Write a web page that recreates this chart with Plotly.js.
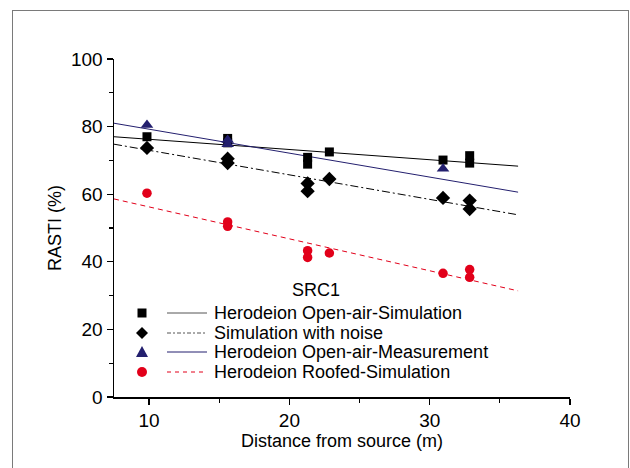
<!DOCTYPE html>
<html>
<head>
<meta charset="utf-8">
<script src="https://cdn.plot.ly/plotly-3.0.1.min.js"></script>
<style>
  html, body { margin: 0; padding: 0; background: #fff; }
  #wrap { position: relative; width: 630px; height: 468px; overflow: hidden; }
  #chart { position: absolute; left: 0; top: 0; width: 630px; height: 468px; }
  #frame { position: absolute; left: 12px; top: 10px; width: 615px; height: 480px;
           border: 1.5px solid #7a7a7a; pointer-events: none; }
</style>
</head>
<body>
<div id="wrap">
  <div id="chart"></div>
  <div id="frame"></div>
</div>
<script>
// ---- data ----
const xSim   = [9.85, 15.6, 15.6, 21.3, 21.3, 22.85, 30.95, 32.85, 32.85];
const ySim   = [77.0, 76.5, 75.2, 70.9, 68.9, 72.5, 70.1, 71.4, 69.2];
const xNoise = [9.85, 15.6, 15.6, 21.3, 21.3, 22.85, 30.95, 32.85, 32.85];
const yNoise = [73.7, 70.5, 69.2, 63.2, 60.9, 64.5, 58.9, 58.1, 55.6];
const xMeas  = [9.85, 15.6, 15.6, 30.95];
const yMeas  = [80.5, 76.0, 74.8, 67.5];
const xRoof  = [9.85, 15.6, 15.6, 21.3, 21.3, 22.85, 30.95, 32.85, 32.85];
const yRoof  = [60.3, 51.8, 50.5, 43.3, 41.3, 42.6, 36.6, 37.7, 35.4];

// fitted (regression) lines, read at their two ends
const fitX     = [7.5, 36.3];
const fitSim   = [77.0, 68.3];
const fitNoise = [74.8, 53.9];
const fitMeas  = [81.0, 60.6];
const fitRoof  = [58.6, 31.4];

const seriesNames = ["Herodeion Open-air-Simulation", "Simulation with noise",
                     "Herodeion Open-air-Measurement", "Herodeion Roofed-Simulation"];
const legendTitle = "SRC1";
const xTitle = "Distance from source (m)";
const yTitle = "RASTI (%)";

// ---- styles ----
const NAVY = "#231f6e";
const RED = "#e2001a";
const FONT = "Liberation Sans, Arial, sans-serif";

const traces = [
  {x: fitX, y: fitSim, mode: "lines", line: {color: "#000", width: 1}},
  {x: fitX, y: fitNoise, mode: "lines", line: {color: "#000", width: 1, dash: "8px,3px,2px,3px"}},
  {x: fitX, y: fitMeas, mode: "lines", line: {color: NAVY, width: 1}},
  {x: fitX, y: fitRoof, mode: "lines", line: {color: RED, width: 1, dash: "5px,4px"}},
  {x: xSim, y: ySim, mode: "markers", marker: {symbol: "square", size: 9, color: "#000"}},
  {x: xNoise, y: yNoise, mode: "markers", marker: {symbol: "diamond", size: 11, color: "#000"}},
  {x: xMeas, y: yMeas, mode: "markers", marker: {symbol: "triangle-up", size: 11, color: NAVY}},
  {x: xRoof, y: yRoof, mode: "markers", marker: {symbol: "circle", size: 9.5, color: RED}}
];

// ---- legend built from layout shapes/annotations ----
const M = {l: 114, r: 60, t: 59, b: 71};
const W = 630, H = 468;
const pw = W - M.l - M.r, ph = H - M.t - M.b;
const px = v => (v - M.l) / pw;
const py = v => (H - M.b - v) / ph;

const rowY = [313, 333, 352, 372];
const mkX = 142, lnX0 = 167, lnX1 = 207, txX = 212;
const lineStyles = [
  {color: "#555", width: 1},
  {color: "#555", width: 1, dash: "4px,2px,2px,2px"},
  {color: NAVY, width: 1},
  {color: RED, width: 1, dash: "4px,4px"}
];
const shapes = [];
const annotations = [];
rowY.forEach((ry, i) => {
  shapes.push({type: "line", xref: "paper", yref: "paper",
               x0: px(lnX0), x1: px(lnX1), y0: py(ry), y1: py(ry), line: lineStyles[i]});
  annotations.push({xref: "paper", yref: "paper", x: px(txX), y: py(ry), xanchor: "left",
                    yanchor: "middle", showarrow: false, text: seriesNames[i],
                    font: {family: FONT, size: 18, color: "#000"}});
});
const pixShape = (type, yi, extra) => Object.assign({
  type: type, xref: "paper", yref: "paper", xsizemode: "pixel", ysizemode: "pixel",
  xanchor: px(mkX), yanchor: py(rowY[yi]), line: {width: 0}
}, extra);
shapes.push(pixShape("rect", 0, {x0: -4.5, x1: 4.5, y0: -4.5, y1: 4.5, fillcolor: "#000"}));
shapes.push(pixShape("path", 1, {path: "M0,6L6,0L0,-6L-6,0Z", fillcolor: "#000"}));
shapes.push(pixShape("path", 2, {path: "M-6,-5L6,-5L0,6Z", fillcolor: NAVY}));
shapes.push(pixShape("circle", 3, {x0: -5, x1: 5, y0: -5, y1: 5, fillcolor: RED}));
annotations.push({xref: "paper", yref: "paper", x: px(316), y: py(290), xanchor: "center",
                  yanchor: "middle", showarrow: false, text: legendTitle,
                  font: {family: FONT, size: 18, color: "#000"}});

const axisCommon = {
  showline: true, linecolor: "#000", linewidth: 1.5, mirror: false,
  ticks: "outside", ticklen: 6, tickwidth: 1.2, tickcolor: "#000",
  showgrid: false, zeroline: false, tickfont: {family: FONT, size: 19, color: "#000"}
};

const layout = {
  width: W, height: H, margin: M, showlegend: false,
  paper_bgcolor: "#fff", plot_bgcolor: "#fff",
  font: {family: FONT, color: "#000"},
  xaxis: Object.assign({}, axisCommon, {
    range: [7.5, 40], tickvals: [10, 20, 30, 40],
    minor: {tickvals: [15, 25, 35], ticks: "outside", ticklen: 4, tickcolor: "#000", tickwidth: 1.2},
    title: {text: xTitle, font: {family: FONT, size: 18, color: "#000"}, standoff: 4}
  }),
  yaxis: Object.assign({}, axisCommon, {
    range: [0, 100], tickvals: [0, 20, 40, 60, 80, 100],
    minor: {tickvals: [10, 30, 50, 70, 90], ticks: "outside", ticklen: 4, tickcolor: "#000", tickwidth: 1.2},
    title: {text: yTitle, font: {family: FONT, size: 18, color: "#000"}, standoff: 4}
  }),
  shapes: shapes,
  annotations: annotations
};

Plotly.newPlot("chart", traces, layout, {staticPlot: true, displayModeBar: false});
</script>
</body>
</html>
